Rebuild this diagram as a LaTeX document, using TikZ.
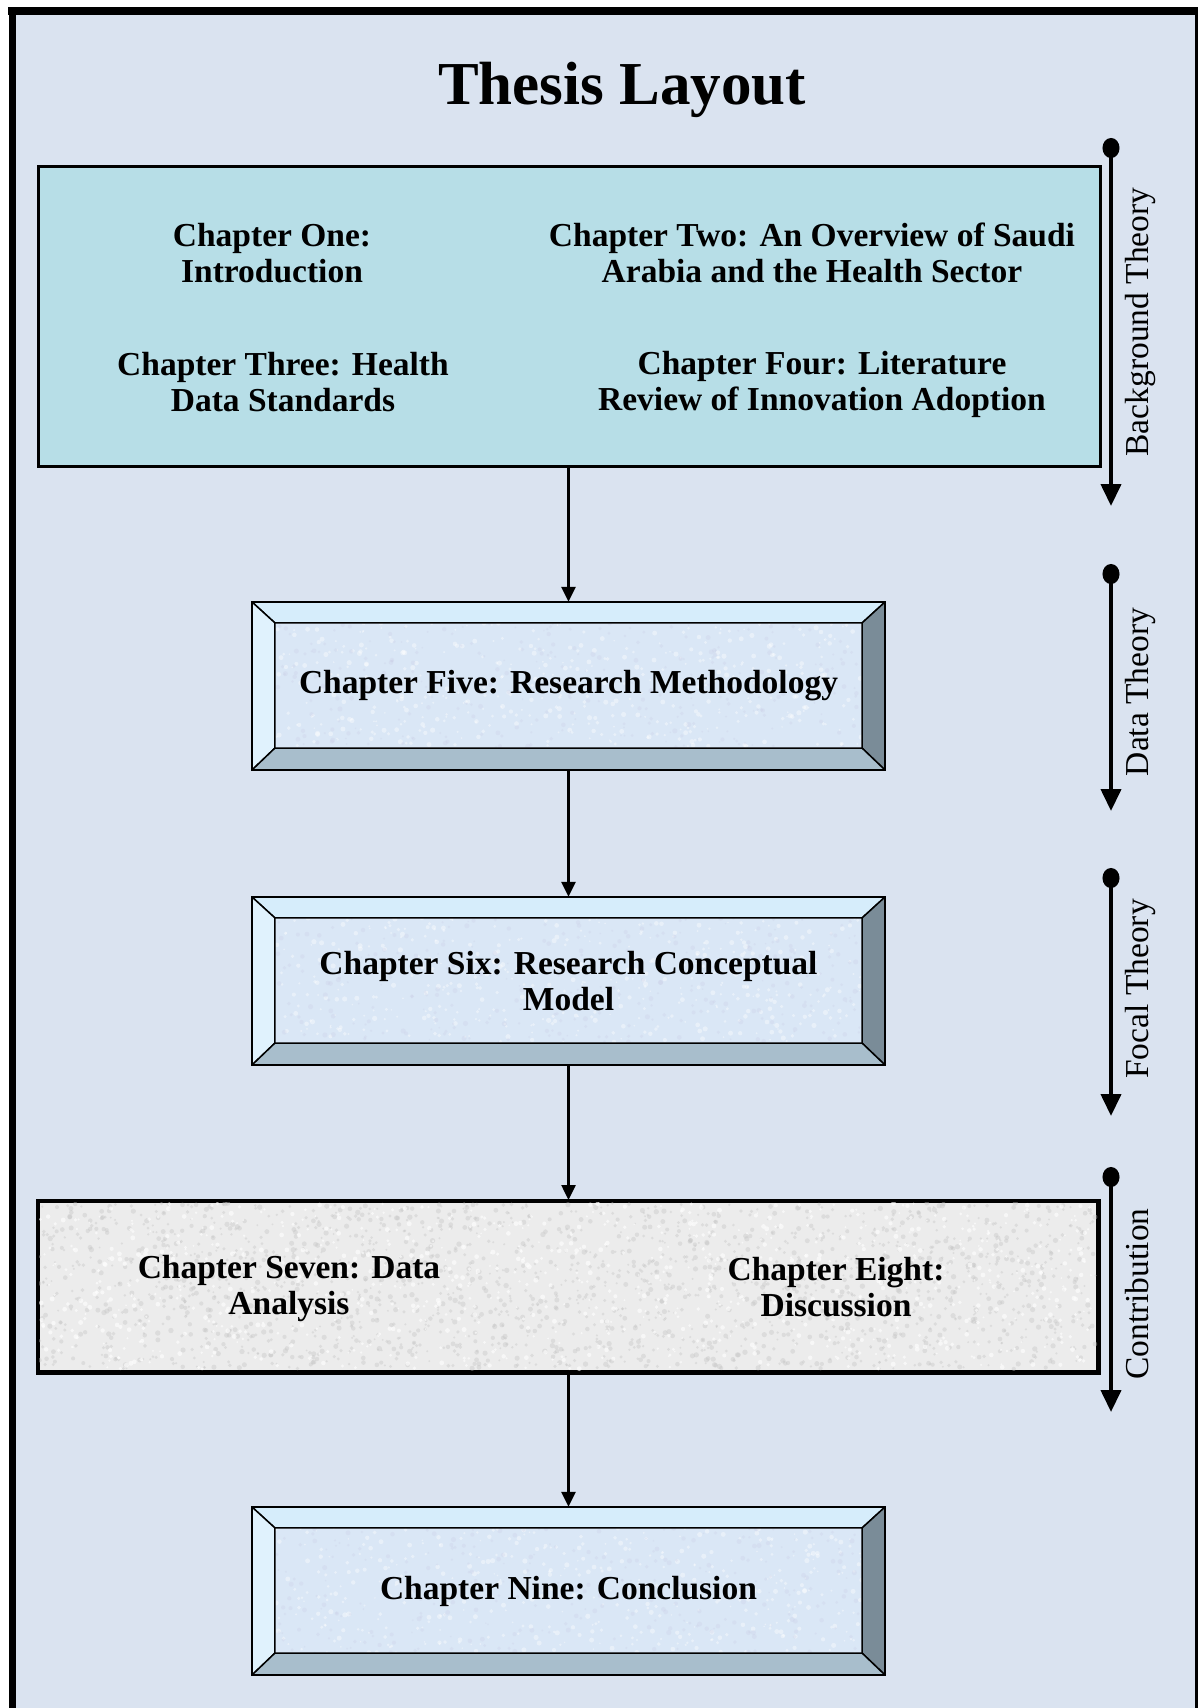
\documentclass[tikz,border=0pt]{standalone}
\usepackage{fontspec}
\setmainfont{Liberation Serif}
\usetikzlibrary{arrows.meta,calc}

\definecolor{pagebg}{RGB}{218,227,240}
\definecolor{topfill}{RGB}{183,222,231}
\definecolor{granite}{RGB}{236,236,236}
\definecolor{graniteDark}{RGB}{196,196,196}
\definecolor{faceblue}{RGB}{218,231,246}
\definecolor{bevtop}{RGB}{214,237,251}
\definecolor{bevleft}{RGB}{224,242,253}
\definecolor{bevright}{RGB}{122,140,152}
\definecolor{bevbottom}{RGB}{168,190,204}

\newcommand{\chapfont}{\fontsize{33.5}{36}\selectfont\bfseries}
\newcommand{\sidefont}{\fontsize{33.5}{36}\selectfont}

% four bevel faces around a raised chapter box
\newcommand{\bevelsides}[1]{%
  \filldraw[bevtop,draw=black,line width=1.5pt,line join=round]
    (#1.north west) -- (#1.north east) -- ($(#1.north east)+(-23,21)$) -- ($(#1.north west)+(23,21)$) -- cycle;
  \filldraw[bevleft,draw=black,line width=1.5pt,line join=round]
    (#1.north west) -- (#1.south west) -- ($(#1.south west)+(23,-22)$) -- ($(#1.north west)+(23,21)$) -- cycle;
  \filldraw[bevright,draw=black,line width=1.5pt,line join=round]
    (#1.north east) -- (#1.south east) -- ($(#1.south east)+(-23,-22)$) -- ($(#1.north east)+(-23,21)$) -- cycle;
  \filldraw[bevbottom,draw=black,line width=1.5pt,line join=round]
    (#1.south west) -- (#1.south east) -- ($(#1.south east)+(-23,-22)$) -- ($(#1.south west)+(23,-22)$) -- cycle;
  \draw[black,line width=2pt] (#1.north west) rectangle (#1.south east);
}

% random specks inside a rectangle: x0, y0, width, height, count, colour, opacity, base radius, spread
\newcommand{\speckle}[9]{%
  \foreach \k in {1,...,#5}{%
    \pgfmathsetmacro{\px}{#1+rnd*#3}%
    \pgfmathsetmacro{\py}{#2+rnd*#4}%
    \pgfmathsetmacro{\pr}{#8+rnd*#9}%
    \fill[#6,opacity=#7] (\px,\py) circle (\pr);
  }%
}

\tikzset{
  chapterbox/.style={minimum width=633pt, minimum height=168pt, inner sep=0pt,
    fill=faceblue, align=center, font=\chapfont},
  widebox/.style={draw=black, line width=3pt, inner sep=0pt},
  chaptext/.style={align=center, font=\chapfont, inner sep=0pt},
  flow/.style={line width=2.5pt, -{Triangle[width=14pt,length=15pt]}},
  phase/.style={line width=4pt, {Circle[width=17pt,length=20pt]}-{Triangle[width=20pt,length=22pt]}},
  phaselabel/.style={rotate=90, anchor=base, font=\sidefont, inner sep=0pt},
}

\begin{document}
\begin{tikzpicture}[x=1pt,y=-1pt]
\useasboundingbox (0,0) rectangle (1198,1708);
\fill[white] (0,0) rectangle (1198,1708);
\pgfmathsetseed{4711}

% outer frame
\fill[pagebg] (12,11) rectangle (1197,1708);
\draw[line width=8pt] (8,11) -- (1198,11);
\draw[line width=7pt] (12,7) -- (12,1708);
\draw[line width=3.5pt] (1196.5,7) -- (1196.5,1708);

% title
\node[font=\fontsize{61}{70}\selectfont\bfseries, inner sep=0pt] (title) at (622,90) {Thesis Layout};

% background theory block
\node[widebox, fill=topfill, minimum width=1062pt, minimum height=300pt] (bg) at (569,316) {};
\node[chaptext] (one)   at (272,253) {Chapter One:\\Introduction};
\node[chaptext] (two)   at (812,253) {Chapter Two: An Overview of Saudi\\Arabia and the Health Sector};
\node[chaptext] (three) at (283,382) {Chapter Three: Health\\Data Standards};
\node[chaptext] (four)  at (822,384) {Chapter Four: Literature\\Review of Innovation Adoption};

% chapter five
\node[chapterbox] (five) at (568.5,686) {};
\speckle{275}{623}{587}{124}{450}{white}{0.4}{0.8}{1.8}
\speckle{275}{623}{587}{124}{300}{blue!30!gray!35}{0.22}{0.8}{1.8}
\bevelsides{five}
\node[chaptext] (fivet) at (five.center) {Chapter Five: Research Methodology};

% chapter six
\node[chapterbox] (six) at (568.5,981) {};
\speckle{275}{918}{587}{124}{450}{white}{0.4}{0.8}{1.8}
\speckle{275}{918}{587}{124}{300}{blue!30!gray!35}{0.22}{0.8}{1.8}
\bevelsides{six}
\node[chaptext] (sixt) at (six.center) {Chapter Six: Research Conceptual\\Model};

% contribution block
\node[widebox, fill=granite, minimum width=1059pt, minimum height=170pt] (contrib) at (568,1286.5) {};
\speckle{39}{1203}{1057}{166}{2000}{graniteDark}{0.4}{1.0}{1.7}
\speckle{39}{1203}{1057}{166}{1000}{white}{0.6}{0.9}{1.6}
\draw[line width=3pt] (contrib.north west) rectangle (contrib.south east);
\node[chaptext] (seven) at (289,1288) {Chapter Seven: Data\\Analysis};
\node[chaptext] (eight) at (836,1287) {Chapter Eight:\\Discussion};

% chapter nine
\node[chapterbox] (nine) at (568.5,1591) {};
\speckle{275}{1528}{587}{125}{450}{white}{0.4}{0.8}{1.8}
\speckle{275}{1528}{587}{125}{300}{blue!30!gray!35}{0.22}{0.8}{1.8}
\bevelsides{nine}
\node[chaptext] (ninet) at (nine.center) {Chapter Nine: Conclusion};

% flow between chapters
\draw[flow] (bg.south -| five.north) -- (five.north);
\draw[flow] (five.south) -- (six.north);
\draw[flow] (six.south) -- (contrib.north -| six.south);
\draw[flow] (contrib.south -| nine.north) -- (nine.north);

% phase markers on the right
\coordinate (p1a) at (1111,138);  \coordinate (p1b) at (1111,506);
\coordinate (p2a) at (1111,564);  \coordinate (p2b) at (1111,811);
\coordinate (p3a) at (1111,868);  \coordinate (p3b) at (1111,1116);
\coordinate (p4a) at (1111,1167); \coordinate (p4b) at (1111,1412);
\draw[phase] (p1a) -- (p1b);
\draw[phase] (p2a) -- (p2b);
\draw[phase] (p3a) -- (p3b);
\draw[phase] (p4a) -- (p4b);
\node[phaselabel] (l1) at (1148,322)  {Background Theory};
\node[phaselabel] (l2) at (1148,692)  {Data Theory};
\node[phaselabel] (l3) at (1148,989)  {Focal Theory};
\node[phaselabel] (l4) at (1148,1294) {Contribution};
\end{tikzpicture}
\end{document}
